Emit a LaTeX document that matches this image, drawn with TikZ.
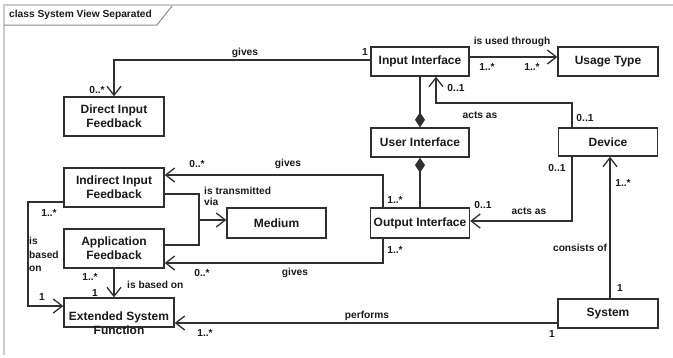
\documentclass[tikz,border=0pt]{standalone}
\usepackage{fontspec}
\setmainfont{Liberation Sans}
\usetikzlibrary{arrows.meta}
\definecolor{linecol}{HTML}{303030}
\definecolor{txtcol}{HTML}{1A1A1A}
\definecolor{framecol}{HTML}{CCCCCC}
\definecolor{tabcol}{HTML}{8A8A8A}
\tikzset{
  box/.style={draw=linecol, line width=1.3pt, fill=white, inner sep=0pt, align=center,
    text=txtcol, font=\fontsize{12}{14}\selectfont\bfseries},
  lbl/.style={inner sep=0pt, text=txtcol, font=\fontsize{10.2}{12}\selectfont\bfseries},
  conn/.style={draw=linecol, line width=1.3pt},
  assoc/.style={conn, -{Straight Barb[length=9pt,width=14pt,line width=1.3pt]}},
  comp/.style={conn, {Diamond[length=15pt,width=10pt,fill=linecol]}-},
}
\begin{document}
\begin{tikzpicture}[x=1pt,y=-1pt]
\useasboundingbox (0,0) rectangle (673,357);
% frame
\draw[framecol, line width=2pt] (4,355) -- (4,5) -- (673,5);
\draw[tabcol, line width=1pt] (4,25) -- (157,25) -- (172,6);
\node[lbl, anchor=west, font=\fontsize{10.2}{12}\selectfont\bfseries] (title) at (9,15) {class System View Separated};

% boxes
\node[box, minimum width=100, minimum height=39] (dif) at (114,116.5) {Direct Input\\Feedback};
\node[box, minimum width=100, minimum height=39] (iif) at (114,187.5) {Indirect Input\\Feedback};
\node[box, minimum width=100, minimum height=39] (af) at (114,248.5) {Application\\Feedback};
\node[box, minimum width=110, minimum height=29] (esf) at (119,312.5) {};
\node[inner sep=0pt, align=center, text=txtcol, font=\fontsize{12}{14}\selectfont\bfseries] (esftext) at (119,323) {Extended System\\Function};
\node[box, minimum width=99, minimum height=30] (med) at (276.5,223) {Medium};
\node[box, minimum width=98, minimum height=29] (ii) at (420,61.5) {Input Interface};
\node[box, minimum width=100, minimum height=29] (ut) at (608,61.5) {Usage Type};
\node[box, minimum width=98, minimum height=29] (ui) at (420,142.5) {User Interface};
\node[box, minimum width=99, minimum height=28] (dev) at (608,142) {Device};
\node[box, minimum width=99, minimum height=30] (oi) at (420,223) {Output Interface};
\node[box, minimum width=100, minimum height=29] (sys) at (608,313.5) {System};

% connectors
\draw[assoc] (ii.west |- 0,60) -| (dif.north);
\draw[assoc] (ii.east |- 0,57) -- (ut.west |- 0,57);
\draw[comp] (ui.north) -- (ii.south);
\draw[comp] (ui.south) -- (oi.north);
\draw[assoc] (dev.north -| 572,0) |- (436,103) -- (ii.south -| 436,0);
\draw[assoc] (dev.south -| 572,0) |- (oi.east |- 0,221);
\draw[assoc] (sys.north -| 610,0) -- (dev.south -| 610,0);
\draw[assoc] (oi.north -| 383,0) |- (iif.east |- 0,175);
\draw[assoc] (oi.south -| 383,0) |- (af.east |- 0,263);
\coordinate (jn) at (199,220);
\draw[conn] (iif.east |- 0,194) -| (199,245) -- (af.east |- 0,245);
\draw[assoc] (jn) -- (med.west |- jn);
\draw[assoc] (iif.west |- 0,202) -| (28,306) -- (esf.west |- 0,306);
\draw[assoc] (af.south -| 114,0) -- (esf.north -| 114,0);
\draw[assoc] (sys.west |- 0,323) -- (esf.east |- 0,323);

% labels
\node[lbl] (l1) at (245,53) {gives};
\node[lbl] (l2) at (365,52) {1};
\node[lbl] (l3) at (97,90) {0..*};
\node[lbl] (l4) at (512,42) {is used through};
\node[lbl] (l5) at (487,67) {1..*};
\node[lbl] (l6) at (532,67) {1..*};
\node[lbl] (l7) at (456,88) {0..1};
\node[lbl] (l8) at (480,115) {acts as};
\node[lbl] (l9) at (585,118) {0..1};
\node[lbl] (l10) at (557,168) {0..1};
\node[lbl] (l11) at (483,205) {0..1};
\node[lbl] (l12) at (529,211) {acts as};
\node[lbl] (l13) at (623,183) {1..*};
\node[lbl] (l14) at (580,248) {consists of};
\node[lbl] (l15) at (620,288) {1};
\node[lbl] (l16) at (288,164) {gives};
\node[lbl] (l17) at (197,164) {0..*};
\node[lbl] (l18) at (395,200) {1..*};
\node[lbl] (l19) at (395,250) {1..*};
\node[lbl, align=left, anchor=north west, font=\fontsize{10.2}{11}\selectfont\bfseries] (l20) at (204,187) {is transmitted\\via};
\node[lbl] (l21) at (49,213) {1..*};
\node[lbl, align=left, anchor=north west, font=\fontsize{10.2}{13.5}\selectfont\bfseries] (l22) at (29,237) {is\\based\\on};
\node[lbl] (l23) at (42,297) {1};
\node[lbl] (l24) at (90,277) {1..*};
\node[lbl] (l25) at (95,293) {1};
\node[lbl, anchor=west] (l26) at (127,285) {is based on};
\node[lbl] (l27) at (202,273) {0..*};
\node[lbl] (l28) at (295,273) {gives};
\node[lbl] (l29) at (367,316) {performs};
\node[lbl] (l30) at (552,334) {1};
\node[lbl] (l31) at (205,333) {1..*};
\end{tikzpicture}
\end{document}
